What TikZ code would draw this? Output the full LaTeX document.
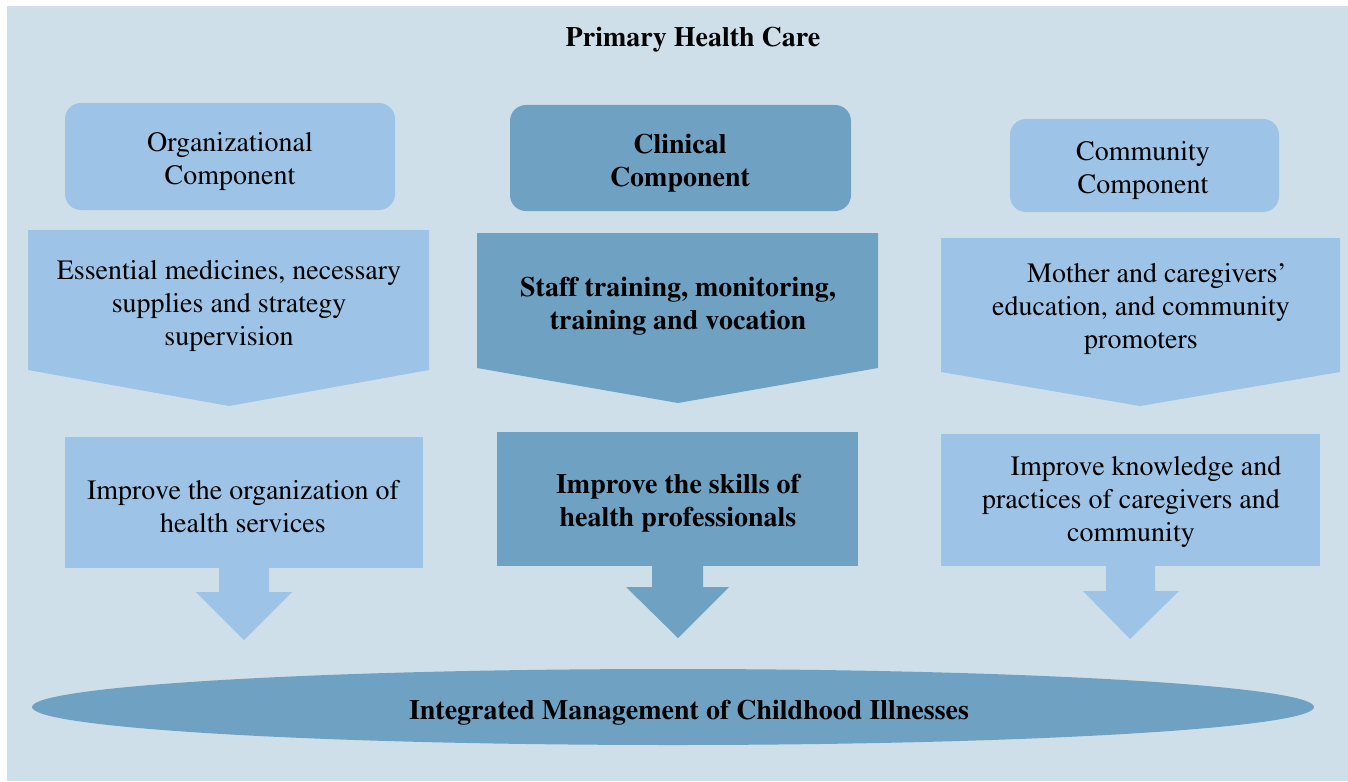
\documentclass[tikz,border=0pt]{standalone}
\usepackage[T1]{fontenc}
\usepackage{times}
\usetikzlibrary{shapes.geometric}
\definecolor{bgpanel}{HTML}{CFDFE9}
\definecolor{lightb}{HTML}{9DC3E6}
\definecolor{darkb}{HTML}{6FA1C3}
\begin{document}
\begin{tikzpicture}[x=1pt,y=-1pt,
  txt/.style={font=\fontsize{28}{33}\selectfont, align=center, inner sep=0pt, text=black},
  btxt/.style={txt, font=\fontsize{28}{33}\selectfont\bfseries},
  compbox/.style={rounded corners=16pt, inner sep=0pt},
  rectbox/.style={inner sep=0pt}]
\useasboundingbox (0,0) rectangle (1348,781);
\fill[white] (0,0) rectangle (1348,781);
\fill[bgpanel] (7,6) rectangle (1348,781);

% title
\node[btxt] (title) at (693,40) {Primary Health Care};

% component boxes
\node[compbox, fill=lightb, minimum width=330pt, minimum height=107pt] (org) at (230,156.5) {};
\node[txt] (orgt) at (230,162) {Organizational\\Component};
\node[compbox, fill=darkb, minimum width=341pt, minimum height=106pt] (cli) at (680.5,158) {};
\node[btxt] (clit) at (680,163.5) {Clinical\\Component};
\node[compbox, fill=lightb, minimum width=269pt, minimum height=93pt] (com) at (1144.5,165.5) {};
\node[txt] (comt) at (1143,171) {Community\\Component};

% pentagon arrows
\fill[lightb] (28,230) -- (429,230) -- (429,370) -- (229,406) -- (28,370) -- cycle;
\node[txt] (p1) at (229,306) {Essential medicines, necessary\\supplies and strategy\\supervision};
\fill[darkb] (477,233) -- (878,233) -- (878,368) -- (678,403) -- (477,368) -- cycle;
\node[btxt] (p2) at (678,306.5) {Staff training, monitoring,\\training and vocation};
\fill[lightb] (941,238) -- (1340,238) -- (1340,372) -- (1140,406) -- (941,372) -- cycle;
\node[txt] (p3) at (1141,309) {\hspace*{32pt}Mother and caregivers'\\education, and community\\promoters};

% result boxes
\node[rectbox, fill=lightb, minimum width=358pt, minimum height=131pt] (b1) at (244,502.5) {};
\node[txt] (b1t) at (243,506.5) {Improve the organization of\\health services};
\node[rectbox, fill=darkb, minimum width=361pt, minimum height=134pt] (b2) at (677.5,499) {};
\node[btxt] (b2t) at (678,503.5) {Improve the skills of\\health professionals};
\node[rectbox, fill=lightb, minimum width=379pt, minimum height=132pt] (b3) at (1130.5,500) {};
\node[txt] (b3t) at (1131,502.5) {\hspace*{30pt}Improve knowledge and\\practices of caregivers and\\community};

% down arrows
\fill[lightb] (219,568) -- (269,568) -- (269,592) -- (292,592) -- (244,640) -- (196,592) -- (219,592) -- cycle;
\fill[darkb] (652,566) -- (703,566) -- (703,587) -- (729,587) -- (678,638) -- (626,587) -- (652,587) -- cycle;
\fill[lightb] (1106,566) -- (1155,566) -- (1155,591) -- (1179,591) -- (1130,639) -- (1083,591) -- (1106,591) -- cycle;

% ellipse
\node[ellipse, fill=darkb, inner sep=0pt, minimum width=1282pt, minimum height=76pt] (imci) at (673,707) {};
\node[btxt] (imcit) at (689,713) {Integrated Management of Childhood Illnesses};
\end{tikzpicture}
\end{document}
